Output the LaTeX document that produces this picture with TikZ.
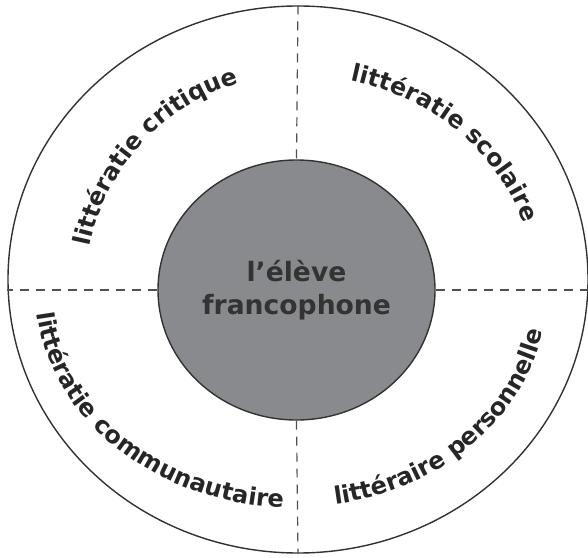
\documentclass[tikz,border=0pt]{standalone}
\usepackage{fontspec}
\setmainfont{DejaVu Sans}
\usetikzlibrary{shapes.geometric,decorations.text}
\definecolor{disque}{RGB}{137,138,142}
\definecolor{trait}{RGB}{50,50,50}
\definecolor{pointille}{RGB}{80,80,80}
\begin{document}
\begin{tikzpicture}[x=0.5pt, y=0.5pt, line join=round,
	tiret/.style={draw=pointille, line width=0.6pt, dash pattern=on 4.5pt off 3.5pt},
	etiquette/.style={decorate, decoration={text along path, text align=center, text color=black!85, text={#1}}}]
	\useasboundingbox (0,0) rectangle (588,557);
	\node[ellipse, draw=trait, line width=0.7pt, minimum width=290pt, minimum height=273.5pt, inner sep=0pt] (cercle) at (298,277.5) {};
	\node[ellipse, draw=trait, fill=disque, line width=0.7pt, minimum width=138.5pt, minimum height=130pt, inner sep=0pt,
		align=center, text=black!80, font=\fontsize{13.3}{16.5}\selectfont\bfseries] (eleve) at (296.5,267) {l’élève\\francophone};
	\draw[tiret] (cercle.north)--(eleve.north);
	\draw[tiret] (eleve.south)--(cercle.south);
	\draw[tiret] (eleve.west)--(eleve.west -| cercle.west);
	\draw[tiret] (eleve.east)--(eleve.east -| cercle.east);
	\path[etiquette={|\fontsize{12}{14}\selectfont\bfseries|littératie critique}] (eleve.center) ++(176:211 and 215) arc[start angle=176, end angle=98, x radius=211, y radius=215];
	\path[etiquette={|\fontsize{12}{14}\selectfont\bfseries|littératie scolaire}] (eleve.center) ++(86:239 and 215) arc[start angle=86, end angle=8, x radius=239, y radius=215];
	\path[etiquette={|\fontsize{12}{14}\selectfont\bfseries|littératie communautaire}] (eleve.center) ++(172:261 and 218) arc[start angle=172, end angle=279, x radius=261, y radius=218];
	\path[etiquette={|\fontsize{12}{14}\selectfont\bfseries|littéraire personnelle}] (eleve.center) ++(-88:251 and 217) arc[start angle=-88, end angle=-3, x radius=251, y radius=217];
\end{tikzpicture}
\end{document}
